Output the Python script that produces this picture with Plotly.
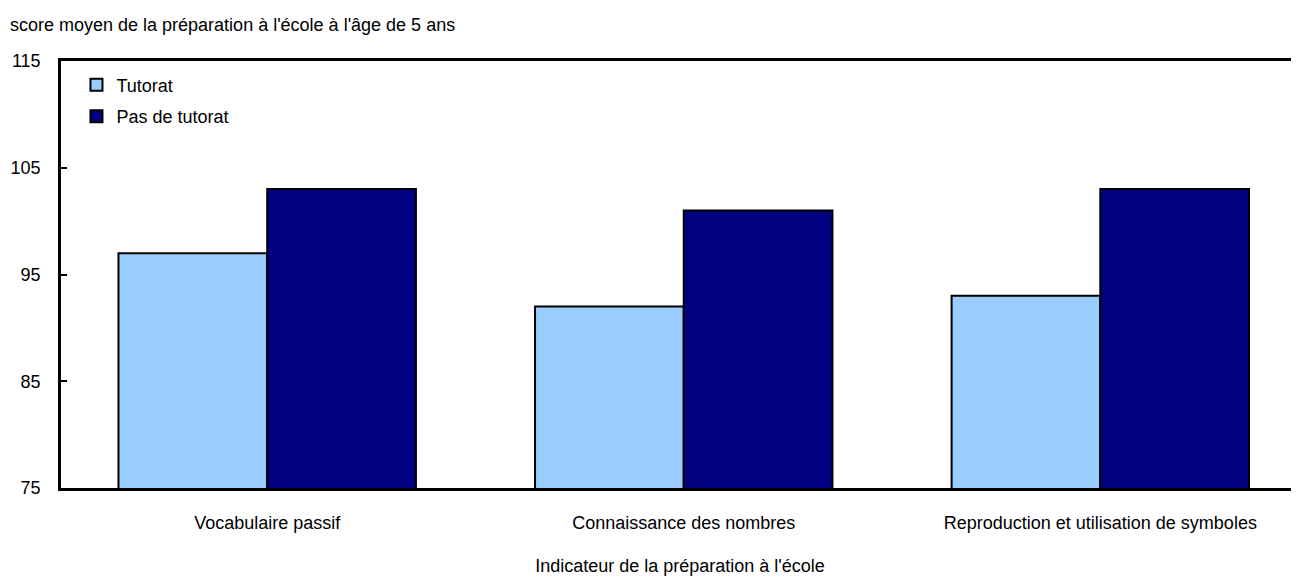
import plotly.graph_objects as go

categories = ["Vocabulaire passif", "Connaissance des nombres", "Reproduction et utilisation de symboles"]
tutorat = [97, 92, 93]
pas_tutorat = [103, 101, 103]
y_ticks = [75, 85, 95, 105, 115]

font = "Liberation Sans, Arial, sans-serif"
FS = 18

fig = go.Figure()
fig.add_trace(go.Bar(name="Tutorat", x=categories, y=tutorat, legendgroup="a",
                     marker=dict(color="#99CCFF", line=dict(color="black", width=2))))
fig.add_trace(go.Bar(name="Pas de tutorat", x=categories, y=pas_tutorat, legendgroup="b",
                     marker=dict(color="#000080", line=dict(color="black", width=2))))

fig.update_layout(
    width=1291, height=577,
    margin=dict(l=53, r=0, t=53, b=97),
    plot_bgcolor="white", paper_bgcolor="white",
    barmode="group", bargap=0.286, bargroupgap=0,
    font=dict(family=font, size=FS, color="black"),
    legend=dict(x=0.0125, y=0.987, xanchor="left", yanchor="top",
                bgcolor="rgba(0,0,0,0)", font=dict(size=FS), tracegroupgap=5,
                traceorder="grouped", itemwidth=30),
    showlegend=True,
    annotations=[
        dict(text="score moyen de la préparation à l'école à l'âge de 5 ans",
             xref="paper", yref="paper", x=-0.0428, y=1.084, xanchor="left", yanchor="middle",
             showarrow=False, font=dict(size=FS)),
    ],
)
fig.update_xaxes(
    range=[-0.495, 2.477],
    showline=True, linecolor="black", linewidth=2.5, mirror=True,
    ticks="", tickfont=dict(size=FS), ticklabelstandoff=17,
    title=dict(text="Indicateur de la préparation à l'école", font=dict(size=FS), standoff=28),
)
fig.update_yaxes(
    range=[75, 115], tickvals=y_ticks,
    showline=True, linecolor="black", linewidth=2.5,
    ticks="inside", ticklen=6, tickwidth=2, tickcolor="black",
    showgrid=False, zeroline=False, tickfont=dict(size=FS), ticklabelstandoff=14,
)

fig.write_html("out.html")
